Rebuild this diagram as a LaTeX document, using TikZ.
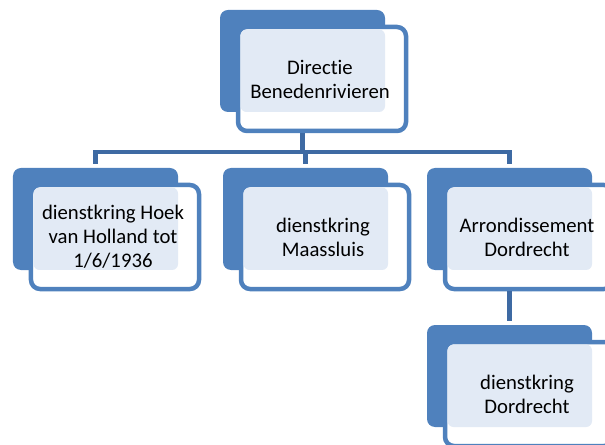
\documentclass[tikz,border=0pt]{standalone}
\usepackage{fontspec}
\setmainfont{Carlito}[Ligatures={NoCommon,NoRare}]
\usetikzlibrary{calc}
\definecolor{boxblue}{RGB}{79,129,189}
\definecolor{connblue}{RGB}{62,106,163}
\definecolor{patfill}{RGB}{226,234,245}
\tikzset{
  backbox/.style={fill=boxblue, draw=none, rounded corners=8bp, minimum width=165bp, minimum height=102bp, inner sep=0pt},
  frontbox/.style={fill=white, draw=boxblue, line width=4.5bp, rounded corners=9bp, minimum width=168bp, minimum height=104bp, inner sep=0pt},
  patbox/.style={fill=patfill, rounded corners=6bp},
  label/.style={align=center, font=\fontsize{20.8}{24}\selectfont, text=black},
  conn/.style={draw=connblue, line width=4.5bp}
}
\newcommand{\orgbox}[4]{%
  \node[backbox] (#1back) at (#2+82.5, #3+51) {};
  \node[frontbox] (#1front) at (#2+102, #3+69) {};
  \path[patbox] (#2+20.5, #3+19.5) rectangle (#2+165, #3+102);
  \node[label] (#1) at (#2+100, #3+69) {#4};
}
\begin{document}
\begin{tikzpicture}[x=1bp,y=-1bp]
\useasboundingbox (0,0) rectangle (605,445);
\clip (0,0) rectangle (605,445);
\orgbox{top}{220}{10}{Directie\\Benedenrivieren}
\orgbox{hoek}{13}{168}{dienstkring Hoek\\van Holland tot\\1/6/1936}
\orgbox{maas}{223}{168}{dienstkring\\Maassluis}
\orgbox{arr}{427}{168}{Arrondissement\\Dordrecht}
\orgbox{dord}{427}{325}{dienstkring\\Dordrecht}
\coordinate (topjoint) at (topfront.south -| topback.center);
\draw[conn, shorten >=4bp] (topjoint) -- ++(0,19) -| (hoekback.north);
\draw[conn, shorten >=4bp] (topjoint) -- ++(0,19) -| (maasback.north);
\draw[conn, shorten >=4bp] (topjoint) -- ++(0,19) -| (arrback.north);
\draw[conn, shorten >=4bp] (arrfront.south -| arrback.center) -- (dordback.north);
\end{tikzpicture}
\end{document}
